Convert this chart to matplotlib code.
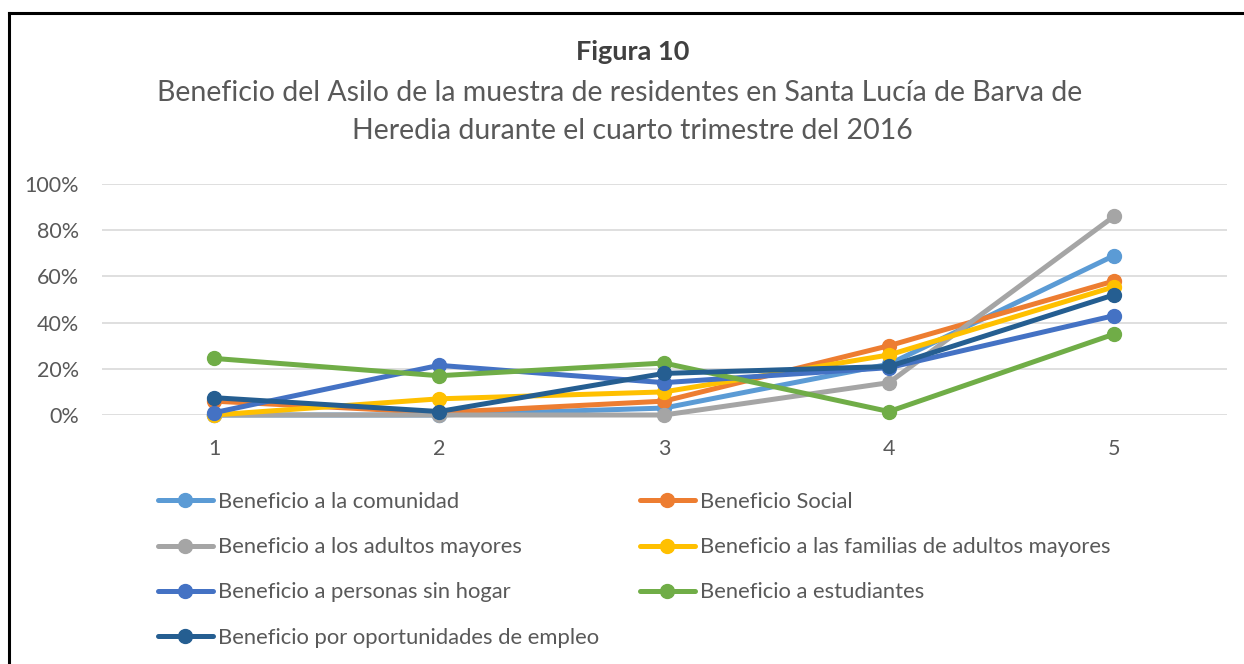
import numpy as np
import matplotlib
matplotlib.use('Agg')
import matplotlib.pyplot as plt
from matplotlib.lines import Line2D

plt.rcParams['font.family'] = ['Lato', 'DejaVu Sans']

# categories on the x axis
categorias = [1, 2, 3, 4, 5]

# series values (fraction of residents)
comunidad = [0.00, 0.00, 0.03, 0.22, 0.69]
social = [0.06, 0.01, 0.06, 0.30, 0.58]
adultos_mayores = [0.00, 0.00, 0.00, 0.14, 0.86]
familias = [0.00, 0.07, 0.10, 0.26, 0.555]
sin_hogar = [0.01, 0.215, 0.14, 0.205, 0.43]
estudiantes = [0.245, 0.17, 0.225, 0.015, 0.35]
empleo = [0.075, 0.015, 0.18, 0.21, 0.52]

nombres = ['Beneficio a la comunidad', 'Beneficio Social',
           'Beneficio a los adultos mayores',
           'Beneficio a las familias de adultos mayores',
           'Beneficio a personas sin hogar', 'Beneficio a estudiantes',
           'Beneficio por oportunidades de empleo']
series = [comunidad, social, adultos_mayores, familias, sin_hogar, estudiantes, empleo]
colores = ['#5B9BD5', '#ED7D31', '#A5A5A5', '#FFC000', '#4472C4', '#70AD47', '#255E91']

y_ticks = [0, 0.2, 0.4, 0.6, 0.8, 1.0]
y_labels = ['0%', '20%', '40%', '60%', '80%', '100%']

W, H = 1244, 664
fig = plt.figure(figsize=(W / 100, H / 100), dpi=100)
ax = fig.add_axes([101.5 / W, 1 - 415 / H, 1125 / W, 231 / H])

lines = []
for vals, nom, col in zip(series, nombres, colores):
    ln, = ax.plot(categorias, vals, color=col, lw=3.6, marker='o', ms=10,
                  label=nom, clip_on=False, solid_capstyle='round')
    lines.append(ln)

ax.set_xlim(0.5, 5.5)
ax.set_ylim(0, 1)
ax.set_yticks(y_ticks)
ax.set_yticklabels(y_labels)
ax.set_xticks(categorias)
ax.grid(axis='y', color='#D9D9D9', lw=1.2)
ax.set_axisbelow(True)
for s in ax.spines.values():
    s.set_visible(False)
ax.tick_params(axis='both', length=0, labelsize=15.5, labelcolor='#595959')
ax.tick_params(axis='y', pad=16)
ax.tick_params(axis='x', pad=17)

# titles
fig.text(633 / W, 1 - 52 / H, 'Figura 10', ha='center', va='center',
         fontsize=19.5, fontweight='bold', color='#404040')
fig.text(620 / W, 1 - 93 / H,
         'Beneficio del Asilo de la muestra de residentes en Santa Lucía de Barva de',
         ha='center', va='center', fontsize=20.5, color='#595959')
fig.text(632 / W, 1 - 131 / H, 'Heredia durante el cuarto trimestre del 2016',
         ha='center', va='center', fontsize=20.5, color='#595959')

# legend in two columns, placed separately
col1 = [0, 2, 4, 6]
col2 = [1, 3, 5]
leg_kw = dict(frameon=False, fontsize=15.8, handlelength=2.5, handletextpad=0.22,
              labelspacing=1.15, borderpad=0, borderaxespad=0, labelcolor='#595959',
              loc='upper left')
leg1 = fig.legend([lines[i] for i in col1], [nombres[i] for i in col1],
                  bbox_to_anchor=(158 / W, 1 - 492 / H), **leg_kw)
leg2 = fig.legend([lines[i] for i in col2], [nombres[i] for i in col2],
                  bbox_to_anchor=(640 / W, 1 - 492 / H), **leg_kw)

# chart frame (left and top edges visible)
fig.add_artist(Line2D([8.5 / W, 8.5 / W], [0, 1 - 12.5 / H], color='black', lw=2.2,
                      transform=fig.transFigure))
fig.add_artist(Line2D([8.5 / W, 1], [1 - 12.5 / H, 1 - 12.5 / H], color='black', lw=2.2,
                      transform=fig.transFigure))

fig.savefig('out.png', dpi=100, facecolor='white')
